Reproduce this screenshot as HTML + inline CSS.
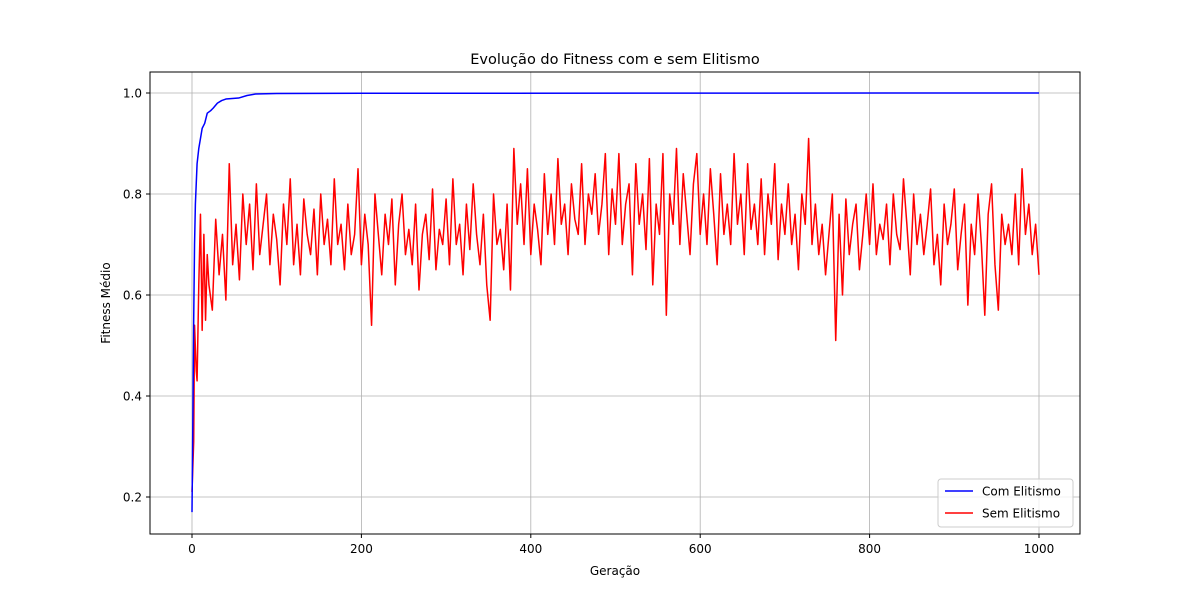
<!DOCTYPE html>
<html><head><meta charset="utf-8"><style>
body{margin:0;background:#fff;font-family:"Liberation Sans","DejaVu Sans",sans-serif}
svg text{font-family:"DejaVu Sans","Liberation Sans",sans-serif}
</style></head><body>
<svg id="chart" width="1200" height="600" xmlns="http://www.w3.org/2000/svg">
<rect width="1200" height="600" fill="#fff"/>
<text x="615" y="64" text-anchor="middle" font-size="14.5">Evolução do Fitness com e sem Elitismo</text>
<g id="grid"></g><g id="ticks"></g><g id="series"></g>
<rect x="150" y="72" width="930" height="462" fill="none" stroke="#000" stroke-width="1"/>
<text x="615" y="575" text-anchor="middle" font-size="12">Geração</text>
<text transform="translate(110,303) rotate(-90)" text-anchor="middle" font-size="12">Fitness Médio</text>
<g>
<rect x="938" y="479" width="135" height="48" rx="3" fill="#fff" fill-opacity="0.8" stroke="#ccc"/>
<line x1="945" y1="491" x2="973" y2="491" stroke="#0000ff" stroke-width="1.5"/>
<text x="982" y="495.5" font-size="12">Com Elitismo</text>
<line x1="945" y1="513" x2="973" y2="513" stroke="#ff0000" stroke-width="1.5"/>
<text x="982" y="517.5" font-size="12">Sem Elitismo</text>
</g>
</svg>
<script>
const xTicks=[0,200,400,600,800,1000];
const yTicks=[0.2,0.4,0.6,0.8,1.0];
const blueGen=[0,1,2,3,4,5,6,8,10,12,15,18,22,25,30,35,40,55,65,75,100,200,1000];
const blueVal=[0.17,0.35,0.55,0.70,0.78,0.82,0.86,0.89,0.91,0.93,0.94,0.96,0.965,0.97,0.98,0.985,0.988,0.99,0.995,0.998,0.999,0.9995,1.0];
const redEarlyGen=[0,2,3,5,6,8,10,12,14,16,18,20];
const redEarlyVal=[0.21,0.31,0.54,0.45,0.43,0.62,0.76,0.53,0.72,0.55,0.68,0.62];
const redVal=[0.57,0.75,0.64,0.72,0.59,0.86,0.66,0.74,0.63,0.80,
0.70,0.78,0.65,0.82,0.68,0.74,0.80,0.66,0.76,0.71,
0.62,0.78,0.70,0.83,0.66,0.74,0.64,0.79,0.72,0.68,
0.77,0.64,0.80,0.70,0.75,0.66,0.83,0.70,0.74,0.65,
0.78,0.68,0.72,0.85,0.66,0.76,0.70,0.54,0.80,0.72,
0.64,0.76,0.70,0.79,0.62,0.74,0.80,0.68,0.73,0.66,
0.78,0.61,0.72,0.76,0.67,0.81,0.65,0.73,0.70,0.79,
0.66,0.83,0.70,0.74,0.64,0.78,0.69,0.82,0.72,0.66,
0.76,0.62,0.55,0.80,0.70,0.73,0.65,0.78,0.61,0.89,
0.74,0.82,0.70,0.85,0.68,0.78,0.73,0.66,0.84,0.72,
0.80,0.70,0.87,0.74,0.78,0.68,0.82,0.75,0.72,0.86,
0.70,0.80,0.76,0.84,0.72,0.78,0.88,0.68,0.81,0.74,
0.88,0.70,0.78,0.82,0.64,0.86,0.74,0.80,0.69,0.87,
0.62,0.78,0.72,0.88,0.56,0.80,0.74,0.89,0.70,0.84,
0.76,0.68,0.82,0.88,0.72,0.80,0.70,0.85,0.76,0.66,
0.84,0.72,0.78,0.70,0.88,0.74,0.80,0.68,0.86,0.73,
0.78,0.70,0.83,0.68,0.80,0.74,0.86,0.67,0.78,0.72,
0.82,0.70,0.76,0.65,0.80,0.74,0.91,0.70,0.78,0.68,
0.74,0.64,0.72,0.80,0.51,0.76,0.60,0.79,0.68,0.74,
0.78,0.65,0.72,0.80,0.70,0.82,0.68,0.74,0.71,0.78,
0.66,0.80,0.72,0.69,0.83,0.74,0.64,0.80,0.70,0.76,
0.68,0.74,0.81,0.66,0.72,0.62,0.78,0.70,0.74,0.81,
0.65,0.72,0.78,0.58,0.74,0.68,0.80,0.70,0.56,0.76,
0.82,0.66,0.57,0.76,0.70,0.74,0.68,0.80,0.66,0.85,
0.72,0.78,0.68,0.74,0.64];
const X=v=>192+(v)*(1039-192)/1000;
const Y=v=>497-(v-0.2)*(497-93)/0.8;
const NS='http://www.w3.org/2000/svg';
const mk=(t,a,p)=>{const e=document.createElementNS(NS,t);for(const k in a)e.setAttribute(k,a[k]);p.appendChild(e);return e;};
const grid=document.getElementById('grid'),ticks=document.getElementById('ticks'),series=document.getElementById('series');
xTicks.forEach(t=>{
 const g=mk('line',{x1:X(t),x2:X(t),y1:72,y2:534,stroke:'#b0b0b0','stroke-width':0.8},grid);
 
 
 mk('line',{x1:X(t),x2:X(t),y1:534,y2:538,stroke:'#000'},ticks);
 const l=mk('text',{x:X(t),y:553,'text-anchor':'middle','font-size':12},ticks);
 l.textContent=t;
 
 
});
yTicks.forEach(t=>{
 const g=mk('line',{x1:150,x2:1080,y1:Y(t),y2:Y(t),stroke:'#b0b0b0','stroke-width':0.8},grid);
 
 
 mk('line',{x1:146,x2:150,y1:Y(t),y2:Y(t),stroke:'#000'},ticks);
 const l=mk('text',{x:142,y:Y(t)+4.5,'text-anchor':'end','font-size':12},ticks);
 l.textContent=t.toFixed(1);
 
 
});
const redGen=redEarlyGen.concat(redVal.map((_,i)=>24+4*i));
const redAll=redEarlyVal.concat(redVal);
const rp=mk('polyline',{points:redGen.map((g,i)=>X(g)+','+Y(redAll[i])).join(' '),fill:'none',stroke:'#ff0000','stroke-width':1.5,'stroke-linejoin':'round'},series);


const bp=mk('polyline',{points:blueGen.map((g,i)=>X(g)+','+Y(blueVal[i])).join(' '),fill:'none',stroke:'#0000ff','stroke-width':1.5,'stroke-linejoin':'round'},series);


</script>
</body></html>
